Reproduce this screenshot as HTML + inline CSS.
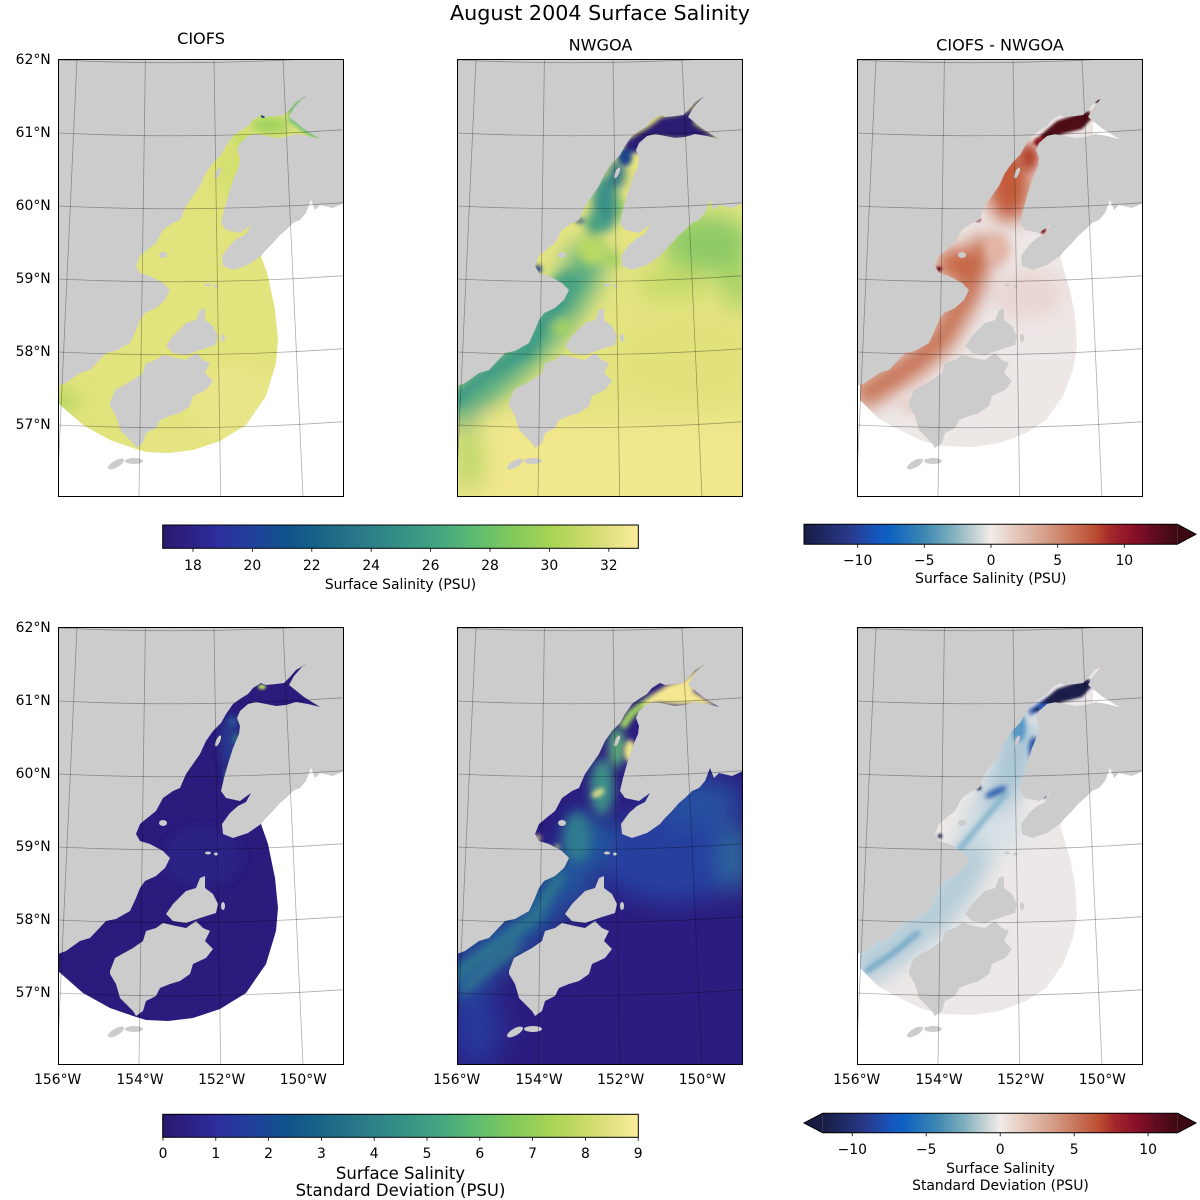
<!DOCTYPE html>
<html><head><meta charset="utf-8"><style>
html,body{margin:0;padding:0;background:#fff;}
svg{display:block;}
text{font-family:"DejaVu Sans","Liberation Sans",sans-serif;fill:#000;}
</style></head><body>
<svg width="1200" height="1200" viewBox="0 0 1200 1200" xmlns="http://www.w3.org/2000/svg">
<defs>
 <clipPath id="pc"><rect x="0" y="0" width="286" height="438"/></clipPath>
 <clipPath id="cc"><path d="M0,320 L0,344 L25,366 L52,381 L75,389 L88,393 L110,394 L135,391 L162,382 L188,366 L208,337 L218,304 L220,281 L217,251 L210,217 L203,197 L200,180 L200,120 L275,85 L275,25 L180,25 L100,150 L0,250 Z"/></clipPath>
 <clipPath id="dc"><path d="M3,320 L3,341 L9,347 L21,359 L33,366 L49,374 L66,382 L83,387 L116,388 L143,384 L169,374 L189,361 L206,337 L216,311 L220,287 L218,257 L213,231 L205,205 L200,180 L200,120 L236,88 L236,64 L250,35 L180,25 L100,150 L3,250 Z"/></clipPath>
 <filter id="b1" x="-50%" y="-50%" width="200%" height="200%"><feGaussianBlur stdDeviation="1.2"/></filter>
 <filter id="b2" x="-50%" y="-50%" width="200%" height="200%"><feGaussianBlur stdDeviation="2.5"/></filter>
 <filter id="b5" x="-50%" y="-50%" width="200%" height="200%"><feGaussianBlur stdDeviation="5"/></filter>
 <filter id="b9" x="-50%" y="-50%" width="200%" height="200%"><feGaussianBlur stdDeviation="9"/></filter>
 <filter id="b12" x="-50%" y="-50%" width="200%" height="200%"><feGaussianBlur stdDeviation="12"/></filter>
 <g id="land" fill="#cccccc">
  <path d="M0,0 L0,327 L8,324 L22,314 L32,311 L48,294 L58,292 L72,284 L78,271 L82,261 L87,254 L98,249 L107,241 L112,231 L105,224 L92,217 L82,214 L78,207 L82,197 L88,192 L98,184 L105,171 L115,164 L122,161 L128,147 L135,137 L142,127 L148,114 L155,104 L163,96 L168,87 L175,77 L182,72 L190,67 L195,61 L203,56 L208,58 L218,57 L226,56 L232,50 L238,43 L248,37 L243,41 L236,49 L231,58 L246,70 L262,80 L250,77 L238,75 L228,78 L218,79 L208,77 L198,75 L190,77 L182,84 L179,91 L182,99 L181,107 L175,121 L170,137 L166,151 L163,164 L168,171 L182,174 L193,166 L188,175 L180,179 L172,186 L164,197 L165,207 L175,211 L190,206 L203,197 L208,191 L215,184 L222,176 L228,171 L235,164 L242,161 L248,154 L253,141 L257,151 L262,146 L275,149 L286,144 L286,0 Z"/>
  <path d="M52,344 L57,331 L75,321 L85,314 L88,304 L98,301 L105,296 L118,299 L128,301 L138,294 L145,301 L152,304 L147,314 L155,322 L148,331 L135,337 L132,347 L122,354 L112,357 L102,361 L98,369 L88,374 L85,384 L78,389 L75,384 L68,377 L62,371 L58,357 L52,347 Z"/>
  <path d="M108,287 L115,277 L128,264 L138,261 L142,251 L147,249 L147,261 L155,267 L160,277 L158,286 L142,291 L128,296 L115,294 Z"/>
  <ellipse cx="58" cy="405" rx="9" ry="3.5" transform="rotate(-30 58 405)"/>
  <ellipse cx="76" cy="402" rx="9" ry="3"/>
  <ellipse cx="105" cy="196" rx="4" ry="3"/>
  <ellipse cx="150" cy="226" rx="3" ry="1.5"/>
  <ellipse cx="158" cy="227" rx="2" ry="1.5"/>
  <ellipse cx="160" cy="114" rx="2" ry="6" transform="rotate(25 160 114)"/>
  <ellipse cx="165" cy="279" rx="2" ry="4"/>
 </g>
 <g id="grid" fill="none" stroke="#000" stroke-opacity="0.32" stroke-width="0.8">
  <path d="M19,0 L-1,438 M87.4,0 L81,438 M156,0 L162.7,438 M225,0 L245,438"/>
  <path d="M0,1 Q143,7.8 286,-2.3 M0,74 Q143,80.8 286,70.7 M0,147 Q143,153.8 286,143.7 M0,220 Q143,226.8 286,216.7 M0,293 Q143,299.8 286,289.7 M0,366 Q143,372.8 286,362.7"/>
 </g>
 <linearGradient id="hal" x1="0" y1="0" x2="1" y2="0">
  <stop offset="0" stop-color="#2a186c"/><stop offset="0.06" stop-color="#2c2288"/><stop offset="0.12" stop-color="#2d2f9e"/><stop offset="0.2" stop-color="#1e449a"/><stop offset="0.26" stop-color="#0f528c"/><stop offset="0.33" stop-color="#186488"/><stop offset="0.42" stop-color="#2a7a88"/><stop offset="0.5" stop-color="#359086"/><stop offset="0.58" stop-color="#44a581"/><stop offset="0.66" stop-color="#5fbd71"/><stop offset="0.74" stop-color="#83ca5b"/><stop offset="0.82" stop-color="#a9d453"/><stop offset="0.9" stop-color="#d0dc6e"/><stop offset="0.96" stop-color="#eae48a"/><stop offset="1" stop-color="#fdee99"/>
 </linearGradient>
 <linearGradient id="bal" x1="0" y1="0" x2="1" y2="0">
  <stop offset="0" stop-color="#181c43"/><stop offset="0.125" stop-color="#283a8c"/><stop offset="0.2" stop-color="#1558c0"/><stop offset="0.23" stop-color="#0f62c0"/><stop offset="0.32" stop-color="#3b86b2"/><stop offset="0.4" stop-color="#80b0bd"/><stop offset="0.46" stop-color="#c6d4d5"/><stop offset="0.5" stop-color="#f1ecea"/><stop offset="0.56" stop-color="#e6cbbf"/><stop offset="0.64" stop-color="#d6a28d"/><stop offset="0.7" stop-color="#cb7e63"/><stop offset="0.78" stop-color="#bb4d32"/><stop offset="0.82" stop-color="#a5282a"/><stop offset="0.88" stop-color="#8a1029"/><stop offset="0.94" stop-color="#600c20"/><stop offset="1" stop-color="#3c0912"/>
 </linearGradient>
</defs>

<rect x="0" y="0" width="1200" height="1200" fill="#fff"/>

<!-- Panel 1: CIOFS salinity -->
<g transform="translate(58,59)">
 <g clip-path="url(#pc)">
  <g clip-path="url(#cc)">
   <rect x="-10" y="-10" width="310" height="460" fill="#e1e37c"/>
   <g filter="url(#b9)">
    <ellipse cx="175" cy="345" rx="45" ry="40" fill="#e9e689"/>
    <ellipse cx="110" cy="385" rx="40" ry="12" fill="#e7e586"/>
    <ellipse cx="4" cy="342" rx="18" ry="10" fill="#b2d65e"/>
    <ellipse cx="172" cy="110" rx="12" ry="30" fill="#d0df6c"/>
   </g>
   <g filter="url(#b5)">
    <ellipse cx="212" cy="66" rx="20" ry="9" fill="#9fd35d"/>
    <ellipse cx="185" cy="82" rx="8" ry="8" fill="#b9da60"/>
   </g>
   <g filter="url(#b2)" fill="none">
    <path d="M231,58 L246,70 L262,80" stroke="#5bb77b" stroke-width="5"/>
    <path d="M230,54 L240,44 L248,37" stroke="#4aa684" stroke-width="4"/>
   </g>
   <circle cx="205" cy="57" r="2" fill="#1d3f8b"/>
   <circle cx="247" cy="38" r="1.8" fill="#1b4c8c"/>
  </g>
  <use href="#land"/>
  <use href="#grid"/>
 </g>
 <rect x="0.5" y="0.5" width="285" height="437" fill="none" stroke="#000" stroke-width="1"/>
</g>

<!-- Panel 2: NWGOA salinity -->
<g transform="translate(457,59)">
 <g clip-path="url(#pc)">
  <rect x="-10" y="-10" width="310" height="460" fill="#e4e480"/>
  <g filter="url(#b12)">
   <rect x="-20" y="360" width="330" height="100" fill="#f1e78d"/>
   <ellipse cx="230" cy="300" rx="70" ry="40" fill="#e1e27b"/>
   <ellipse cx="250" cy="185" rx="45" ry="30" fill="#8dca66"/>
   <ellipse cx="280" cy="225" rx="14" ry="25" fill="#9ccf62"/>
   <ellipse cx="215" cy="225" rx="35" ry="18" fill="#c6db6a"/>
   <path d="M-10,360 L25,330 L55,305 L80,280 L100,255 L115,235 L125,215 L135,190" stroke="#4fa981" stroke-width="34" fill="none"/>
   <ellipse cx="12" cy="400" rx="14" ry="35" fill="#b5d665"/>
  </g>
  <g filter="url(#b5)">
   <path d="M-5,345 L20,322 L45,305 L72,290 L85,265 L100,248 L110,233" stroke="#3b9886" stroke-width="12" fill="none"/>
   <ellipse cx="135" cy="190" rx="14" ry="16" fill="#b9d864"/>
   <ellipse cx="110" cy="225" rx="14" ry="12" fill="#49a383"/>
   <ellipse cx="105" cy="268" rx="10" ry="8" fill="#a5d262"/>
   <ellipse cx="148" cy="145" rx="13" ry="28" fill="#3a9088"/>
   <ellipse cx="138" cy="165" rx="10" ry="12" fill="#48a283"/>
   <ellipse cx="163" cy="150" rx="4" ry="12" fill="#7cc46a"/>
   <ellipse cx="160" cy="115" rx="8" ry="14" fill="#2a6f89"/>
   <ellipse cx="155" cy="200" rx="8" ry="8" fill="#a2d161"/>
  </g>
  <g filter="url(#b2)">
   <ellipse cx="168" cy="98" rx="7" ry="9" fill="#1f448d"/>
   <ellipse cx="178" cy="86" rx="10" ry="8" fill="#25288a"/>
   <path d="M166,90 L178,76 L192,68 L205,58 L220,56 L232,52 L244,38 L250,36 L252,40 L240,54 L236,64 L262,80 L240,80 L220,80 L200,78 L185,90 Z" fill="#2b1b70"/>
   <ellipse cx="81" cy="210" rx="4" ry="4" fill="#1e3a8c"/>
   <ellipse cx="123" cy="162" rx="5" ry="2" fill="#1e4a8d"/>
  </g>
  <use href="#land"/>
  <use href="#grid"/>
 </g>
 <rect x="0.5" y="0.5" width="285" height="437" fill="none" stroke="#000" stroke-width="1"/>
</g>

<!-- Panel 3: diff salinity -->
<g transform="translate(857,59)">
 <g clip-path="url(#pc)">
  <g clip-path="url(#dc)">
   <rect x="-10" y="-10" width="310" height="460" fill="#ede7e6"/>
   <g filter="url(#b9)">
    <path d="M0,340 L30,322 L60,302 L85,278 L100,252 L112,232 L120,205 L130,180" stroke="#c66f51" stroke-width="26" fill="none"/>
    <ellipse cx="152" cy="125" rx="22" ry="38" fill="#c25a39"/>
    <ellipse cx="100" cy="205" rx="22" ry="16" fill="#c5643f"/>
    <ellipse cx="170" cy="235" rx="35" ry="25" fill="#e9d6d1"/>
   </g>
   <g filter="url(#b5)">
    <ellipse cx="140" cy="190" rx="13" ry="16" fill="#e2b5a5"/>
    <ellipse cx="60" cy="345" rx="20" ry="10" fill="#e6d2cb"/>
    <ellipse cx="172" cy="98" rx="10" ry="14" fill="#b2432a"/>
   </g>
   <g filter="url(#b1)">
    <path d="M175,85 L185,75 L200,62 L215,57 L232,52 L236,58 L225,70 L205,75 L190,82 Z" fill="#4e0b17"/>
    <ellipse cx="183" cy="83" rx="6" ry="5" fill="#8e1b24"/>
    <rect x="238" y="38" width="5" height="6" fill="#4a0a14"/>
    <ellipse cx="82" cy="210" rx="3" ry="2.5" fill="#6b0f1a"/>
    <ellipse cx="186" cy="171" rx="3" ry="4" fill="#7a1420"/>
    <ellipse cx="121" cy="161" rx="3" ry="1.5" fill="#5e0d18"/>
   </g>
  </g>
  <use href="#land"/>
  <use href="#grid"/>
 </g>
 <rect x="0.5" y="0.5" width="285" height="437" fill="none" stroke="#000" stroke-width="1"/>
</g>

<!-- Panel 4: CIOFS std -->
<g transform="translate(58,627)">
 <g clip-path="url(#pc)">
  <g clip-path="url(#cc)">
   <rect x="-10" y="-10" width="310" height="460" fill="#2a1b7c"/>
   <g filter="url(#b5)">
    <ellipse cx="172" cy="115" rx="9" ry="28" fill="#263a8e"/>
    <ellipse cx="145" cy="230" rx="40" ry="30" fill="#2b2385"/>
   </g>
   <g filter="url(#b2)">
    <ellipse cx="170" cy="148" rx="4" ry="6" fill="#2a6a8b"/>
    <ellipse cx="178" cy="112" rx="3" ry="6" fill="#2d6e8a"/>
    <ellipse cx="175" cy="95" rx="5" ry="5" fill="#2c4e90"/>
   </g>
   <g filter="url(#b1)">
    <ellipse cx="204" cy="60" rx="4" ry="2.5" fill="#b6d95e"/>
    <ellipse cx="246" cy="40" rx="3" ry="1.5" fill="#c5dc62"/>
   </g>
  </g>
  <use href="#land"/>
  <use href="#grid"/>
 </g>
 <rect x="0.5" y="0.5" width="285" height="437" fill="none" stroke="#000" stroke-width="1"/>
</g>

<!-- Panel 5: NWGOA std -->
<g transform="translate(457,627)">
 <g clip-path="url(#pc)">
  <rect x="-10" y="-10" width="310" height="460" fill="#2b1d80"/>
  <g filter="url(#b12)">
   <ellipse cx="215" cy="230" rx="75" ry="45" fill="#2541a0"/>
   <ellipse cx="240" cy="175" rx="45" ry="25" fill="#2650a0"/>
   <ellipse cx="278" cy="230" rx="15" ry="35" fill="#2e6a9c"/>
   <path d="M-10,365 L30,330 L60,305 L90,275 L110,250 L125,225 L140,190" stroke="#245a9c" stroke-width="40" fill="none"/>
   <ellipse cx="20" cy="400" rx="25" ry="40" fill="#25399a"/>
   <ellipse cx="120" cy="270" rx="25" ry="12" fill="#27479c"/>
  </g>
  <g filter="url(#b5)">
   <path d="M-5,352 L25,328 L55,307 L78,290 L92,266 L105,247" stroke="#2d7a8e" stroke-width="10" fill="none"/>
   <path d="M5,365 L35,338 L62,318" stroke="#3f8f88" stroke-width="5" fill="none"/>
   <ellipse cx="120" cy="210" rx="14" ry="25" fill="#2f7a8e"/>
   <ellipse cx="145" cy="160" rx="12" ry="28" fill="#3d8f89"/>
   <ellipse cx="160" cy="120" rx="8" ry="20" fill="#5db57a"/>
  </g>
  <g filter="url(#b2)">
   <ellipse cx="141" cy="166" rx="7" ry="3.5" transform="rotate(-30 141 166)" fill="#e6e388"/>
   <ellipse cx="173" cy="124" rx="6" ry="11" fill="#e9e48a"/>
   <path d="M165,100 L175,86 L190,75 L205,66" stroke="#9dd160" stroke-width="8" fill="none"/>
   <path d="M185,80 L195,68 L210,58 L228,52 L236,45 L246,37 L250,38 L240,55 L236,64 L262,80 L240,78 L220,78 L200,76 L190,82 Z" fill="#f3e78f"/>
   <ellipse cx="81" cy="211" rx="3" ry="3" fill="#f0e68c"/>
   <ellipse cx="100" cy="220" rx="3" ry="2" fill="#dfe284"/>
  </g>
  <use href="#land"/>
  <use href="#grid"/>
 </g>
 <rect x="0.5" y="0.5" width="285" height="437" fill="none" stroke="#000" stroke-width="1"/>
</g>

<!-- Panel 6: diff std -->
<g transform="translate(857,627)">
 <g clip-path="url(#pc)">
  <g clip-path="url(#dc)">
   <rect x="-10" y="-10" width="310" height="460" fill="#ece8e7"/>
   <g filter="url(#b9)">
    <path d="M0,345 L30,325 L60,303 L85,278 L105,250 L120,220 L135,185 L150,150 L165,115 L175,95" stroke="#b5cdd9" stroke-width="38" fill="none"/>
    <ellipse cx="155" cy="130" rx="15" ry="40" fill="#a9c6d6"/>
    <ellipse cx="140" cy="205" rx="25" ry="22" fill="#d7e1e6"/>
   </g>
   <g filter="url(#b2)">
    <path d="M8,345 L35,327 L62,305" stroke="#6fa5c6" stroke-width="5" fill="none"/>
    <path d="M100,225 Q125,195 150,165" stroke="#7fb0ca" stroke-width="5" fill="none"/>
    <ellipse cx="139" cy="165" rx="12" ry="3.5" transform="rotate(-25 139 165)" fill="#2f5fb0"/>
    <ellipse cx="177" cy="122" rx="5" ry="12" fill="#2449a8"/>
    <ellipse cx="162" cy="100" rx="7" ry="15" fill="#5a99c6"/>
    <path d="M172,86 L185,78 L198,72" stroke="#2a55b0" stroke-width="6" fill="none"/>
   </g>
   <g filter="url(#b1)">
    <path d="M175,85 L185,75 L200,62 L215,57 L232,52 L236,58 L225,70 L205,75 L190,82 Z" fill="#1b1d4a"/>
    <ellipse cx="188" cy="80" rx="7" ry="4" fill="#2a52b2"/>
    <rect x="81" y="207" width="4" height="4" fill="#1a1c48"/>
    <rect x="120" y="159" width="4" height="4" fill="#1a1c48"/>
    <rect x="186" y="167" width="3" height="4" fill="#1a1c48"/>
    <rect x="244" y="39" width="4" height="3" fill="#a82a2a"/>
   </g>
  </g>
  <use href="#land"/>
  <use href="#grid"/>
 </g>
 <rect x="0.5" y="0.5" width="285" height="437" fill="none" stroke="#000" stroke-width="1"/>
</g>

<!-- Titles -->
<text x="600" y="20" font-size="20.7" text-anchor="middle">August 2004 Surface Salinity</text>
<text x="201" y="44" font-size="16.1" text-anchor="middle">CIOFS</text>
<text x="600.5" y="50.7" font-size="16.1" text-anchor="middle">NWGOA</text>
<text x="1000" y="50.7" font-size="16.1" text-anchor="middle">CIOFS - NWGOA</text>

<!-- Lat labels -->
<g font-size="13.9" text-anchor="end">
 <text x="50.7" y="64">62°N</text><text x="50.7" y="137">61°N</text><text x="50.7" y="210">60°N</text><text x="50.7" y="283">59°N</text><text x="50.7" y="356">58°N</text><text x="50.7" y="429">57°N</text>
 <text x="50.7" y="632">62°N</text><text x="50.7" y="705">61°N</text><text x="50.7" y="778">60°N</text><text x="50.7" y="851">59°N</text><text x="50.7" y="924">58°N</text><text x="50.7" y="997">57°N</text>
</g>
<!-- Lon labels -->
<g font-size="13.9" text-anchor="middle">
 <text x="57.7" y="1084">156°W</text><text x="140" y="1084">154°W</text><text x="221.7" y="1084">152°W</text><text x="303.3" y="1084">150°W</text>
 <text x="456.7" y="1084">156°W</text><text x="539" y="1084">154°W</text><text x="620.7" y="1084">152°W</text><text x="702.3" y="1084">150°W</text>
 <text x="856.7" y="1084">156°W</text><text x="939" y="1084">154°W</text><text x="1020.7" y="1084">152°W</text><text x="1102.3" y="1084">150°W</text>
</g>

<!-- Colorbar 1 (haline 17-33) -->
<rect x="162.7" y="525" width="475.6" height="23.3" fill="url(#hal)" stroke="#000" stroke-width="1"/>
<g stroke="#000" stroke-width="0.8">
 <path d="M193,548.3 V551.8 M252.4,548.3 V551.8 M311.8,548.3 V551.8 M371.2,548.3 V551.8 M430.6,548.3 V551.8 M490,548.3 V551.8 M549.4,548.3 V551.8 M608.8,548.3 V551.8"/>
</g>
<g font-size="13.9" text-anchor="middle">
 <text x="193" y="570">18</text><text x="252.4" y="570">20</text><text x="311.8" y="570">22</text><text x="371.2" y="570">24</text><text x="430.6" y="570">26</text><text x="490" y="570">28</text><text x="549.4" y="570">30</text><text x="608.8" y="570">32</text>
 <text x="400.5" y="589">Surface Salinity (PSU)</text>
</g>

<!-- Colorbar 2 (balance -14..14, extend max) -->
<rect x="804" y="524.3" width="373.3" height="20" fill="url(#bal)"/>
<path d="M1177.3,524.3 L1196,534.3 L1177.3,544.3 Z" fill="#3c0912"/>
<path d="M804,524.3 L1177.3,524.3 L1196,534.3 L1177.3,544.3 L804,544.3 Z" fill="none" stroke="#000" stroke-width="1"/>
<g stroke="#000" stroke-width="0.8">
 <path d="M857.7,544.3 V547.8 M924.3,544.3 V547.8 M991,544.3 V547.8 M1057.7,544.3 V547.8 M1124.3,544.3 V547.8"/>
</g>
<g font-size="13.9" text-anchor="middle">
 <text x="857.7" y="565">−10</text><text x="924.3" y="565">−5</text><text x="991" y="565">0</text><text x="1057.7" y="565">5</text><text x="1124.3" y="565">10</text>
 <text x="990.8" y="583">Surface Salinity (PSU)</text>
</g>

<!-- Colorbar 3 (haline 0-9) -->
<rect x="162.7" y="1114.3" width="475.6" height="23" fill="url(#hal)" stroke="#000" stroke-width="1"/>
<g stroke="#000" stroke-width="0.8">
 <path d="M163,1137.3 V1140.8 M215.8,1137.3 V1140.8 M268.6,1137.3 V1140.8 M321.4,1137.3 V1140.8 M374.2,1137.3 V1140.8 M427,1137.3 V1140.8 M479.8,1137.3 V1140.8 M532.6,1137.3 V1140.8 M585.4,1137.3 V1140.8 M638.2,1137.3 V1140.8"/>
</g>
<g font-size="13.9" text-anchor="middle">
 <text x="163" y="1158">0</text><text x="215.8" y="1158">1</text><text x="268.6" y="1158">2</text><text x="321.4" y="1158">3</text><text x="374.2" y="1158">4</text><text x="427" y="1158">5</text><text x="479.8" y="1158">6</text><text x="532.6" y="1158">7</text><text x="585.4" y="1158">8</text><text x="638.2" y="1158">9</text>
</g>
<g font-size="16.5" text-anchor="middle">
 <text x="400.5" y="1179">Surface Salinity</text>
 <text x="400.5" y="1196">Standard Deviation (PSU)</text>
</g>

<!-- Colorbar 4 (balance -12..12, extend both) -->
<rect x="822.7" y="1113.3" width="355" height="19.4" fill="url(#bal)"/>
<path d="M822.7,1113.3 L804,1123 L822.7,1132.7 Z" fill="#181c43"/>
<path d="M1177.7,1113.3 L1196,1123 L1177.7,1132.7 Z" fill="#3c0912"/>
<path d="M822.7,1113.3 L1177.7,1113.3 L1196,1123 L1177.7,1132.7 L822.7,1132.7 L804,1123 Z" fill="none" stroke="#000" stroke-width="1"/>
<g stroke="#000" stroke-width="0.8">
 <path d="M852.3,1132.7 V1136.2 M926.2,1132.7 V1136.2 M1000.2,1132.7 V1136.2 M1074.2,1132.7 V1136.2 M1148.1,1132.7 V1136.2"/>
</g>
<g font-size="13.9" text-anchor="middle">
 <text x="852.3" y="1154">−10</text><text x="926.2" y="1154">−5</text><text x="1000.2" y="1154">0</text><text x="1074.2" y="1154">5</text><text x="1148.1" y="1154">10</text>
 <text x="1000.5" y="1173">Surface Salinity</text>
 <text x="1000.5" y="1190">Standard Deviation (PSU)</text>
</g>
</svg>
</body></html>
